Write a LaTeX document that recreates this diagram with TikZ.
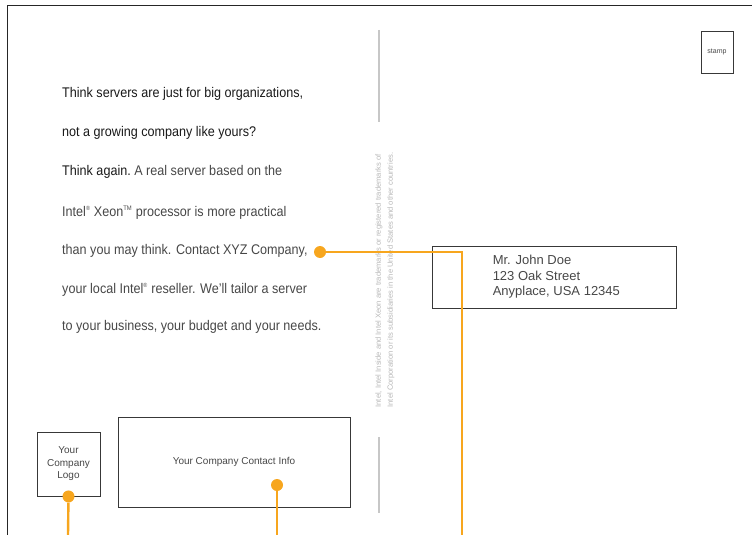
\documentclass[tikz,border=0pt]{standalone}
\usepackage{fontspec}
\setmainfont[FakeStretch=0.9]{Liberation Sans}
\newfontfamily\plainsans{Liberation Sans}
\definecolor{cardorange}{RGB}{247,166,30}
\newcommand{\regmark}{\textsuperscript{\fontsize{6}{6}\selectfont ®}}
\newcommand{\tmmark}{\textsuperscript{\fontsize{6.5}{6.5}\selectfont TM}}

\begin{document}
\begin{tikzpicture}[
					x = 1pt, y = -1pt,
					every node/.style = {inner sep = 0pt},
					copy/.style = {anchor = base west, font = \fontsize{14}{14}\selectfont, text = black!72},
					frame/.style = {draw = black!85, line width = 1pt},
					fold/.style = {draw = black!22, line width = 1.5pt},
					field/.style = {draw = black!78, line width = 0.9pt, align = center, text = black!72,
						font = \plainsans\fontsize{10}{12.5}\selectfont},
					dot/.style = {circle, fill = cardorange, minimum size = 12pt},
					wire/.style = {draw = cardorange, line width = 2.4pt}]

					\useasboundingbox (0,0) rectangle (752,535);

					\draw[frame] (7,535) -- (7,6) -- (752,6);

					\draw[fold] (379,30) -- (379,122);
					\draw[fold] (379,437) -- (379,513);

					\node[copy, text = black!90] (l1) at (62,97) {Think servers are just for big organizations,};
					\node[copy, text = black!90] (l2) at (62,136) {not a growing company like yours?};
					\node[copy] (l3) at (62,175) {\textcolor{black!90}{Think again.}\ A real server based on the};
					\node[copy] (l4) at (62,216) {Intel\regmark{} Xeon\tmmark{} processor is more practical};
					\node[copy] (l5) at (62,254) {than you may think. Contact XYZ Company,};
					\node[copy] (l6) at (62,293) {your local Intel\regmark{} reseller. We'll tailor a server};
					\node[copy] (l7) at (62,330) {to your business, your budget and your needs.};

					\node[rotate = 90, align = left, text = black!28, font = \plainsans\fontsize{7.6}{12}\selectfont] (legal) at (385,280)
						{Intel, Intel Inside and Intel Xeon are trademarks or registered trademarks of\\Intel Corporation or its subsidiaries in the United States and other countries.};

					\node[field, minimum width = 32pt, minimum height = 42pt, font = \plainsans\fontsize{7}{8}\selectfont] (stamp) at (717,52) {stamp};

					\node[field, minimum width = 244pt, minimum height = 62pt] (addr) at (554,277) {};
					\node[anchor = west, align = left, text = black!72, font = \plainsans\fontsize{13}{15.5}\selectfont] (addrtext) at ([xshift = 61pt]addr.west)
						{Mr. John Doe\\123 Oak Street\\Anyplace, USA 12345};

					\node[field, minimum width = 63pt, minimum height = 64pt] (logo) at (68.5,464) {Your\\Company\\Logo};
					\node[field, minimum width = 232pt, minimum height = 90pt] (contact) at (234,462) {Your Company Contact Info};

					\coordinate (e1) at (462,535);
					\coordinate (e2) at (68,535);
					\coordinate (e3) at (277,535);

					\node[dot] (p1) at (320,252) {};
					\node[dot] (p2) at (logo.south) {};
					\node[dot] (p3) at (277,485) {};

					\draw[wire] (p1) -- (p1 -| e1) -- (e1);
					\draw[wire] (p2) -- (e2);
					\draw[wire] (p3) -- (e3);

				\end{tikzpicture}
\end{document}
